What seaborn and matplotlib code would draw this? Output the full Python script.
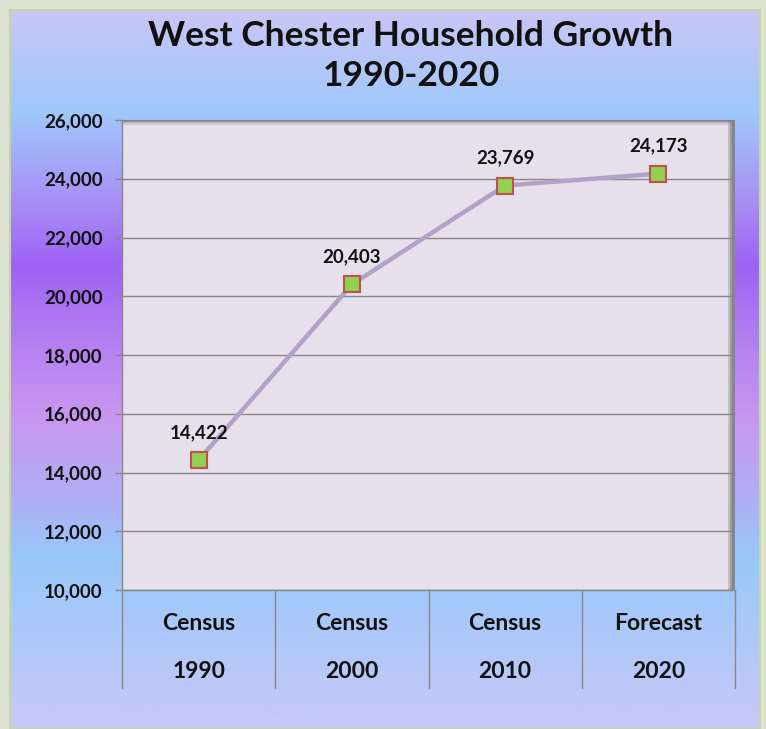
import numpy as np
import pandas as pd
import matplotlib
matplotlib.use("Agg")
import matplotlib.pyplot as plt
import matplotlib.transforms as mtransforms
from matplotlib.colors import LinearSegmentedColormap
from matplotlib.patches import Rectangle
import seaborn as sns

# chart data
periods = ["Census", "Census", "Census", "Forecast"]
years = ["1990", "2000", "2010", "2020"]
households = [14422, 20403, 23769, 24173]
y_ticks = [10000, 12000, 14000, 16000, 18000, 20000, 22000, 24000, 26000]

sns.set_theme(style="white")
plt.rcParams['font.family'] = ['Lato', 'DejaVu Sans']

W, H = 766, 729
fig = plt.figure(figsize=(W / 100, H / 100), dpi=100)
fig.patch.set_facecolor("#dde3d3")

# gradient panel behind everything
bg = fig.add_axes([10 / W, 0, 750 / W, 719 / H])
stops = [(0.0, "#c8c6f6"), (0.139, "#a0c8fb"), (0.264, "#a88ff5"),
         (0.355, "#9d62f4"), (0.445, "#b07cf2"), (0.57, "#c898f0"),
         (0.68, "#b0aef4"), (0.765, "#98c8fa"), (1.0, "#c8c8f8")]
cmap = LinearSegmentedColormap.from_list("panel", stops)
bg.imshow(np.linspace(0, 1, 400).reshape(-1, 1), cmap=cmap, aspect="auto",
          extent=[0, 1, 0, 1], origin="upper")
bg.set_xticks([])
bg.set_yticks([])
for s in bg.spines.values():
    s.set_color("#c5d6a6")
    s.set_linewidth(1.5)

fig.text(411 / W, 1 - 36 / H, "West Chester Household Growth", ha="center",
         va="center", fontsize=25.5, fontweight="bold", color="#111111")
fig.text(411 / W, 1 - 76 / H, "1990-2020", ha="center", va="center",
         fontsize=25.5, fontweight="bold", color="#111111")

ax = fig.add_axes([122 / W, 1 - 590 / H, 613 / W, 470 / H])
ax.set_facecolor("#e6e0ec")

df = pd.DataFrame({"year": years, "households": households})
sns.lineplot(data=df, x="year", y="households", ax=ax, color="#b3a2c7",
             linewidth=3.2, marker="s", markersize=11.5,
             markerfacecolor="#92d050", markeredgecolor="#c0504d",
             markeredgewidth=1.5, zorder=5)

for i, v in enumerate(households):
    ax.annotate(f"{v:,}", (i, v), xytext=(0, 20), textcoords="offset points",
                ha="center", va="center", fontsize=13.5, fontweight="bold",
                color="#111111", zorder=6)

ax.set_xlim(-0.5, 3.5)
ax.set_ylim(10000, 26000)
ax.set_yticks(y_ticks)
ax.set_yticklabels([f"{t:,}" for t in y_ticks], fontsize=13.5,
                   fontweight="bold", color="#111111")
ax.set_xticks([])
ax.set_xlabel("")
ax.set_ylabel("")
ax.tick_params(axis="y", left=True, length=5, width=1, color="#888888", pad=9)
ax.set_axisbelow(True)
ax.grid(axis="y", color="#878787", linewidth=1)
for side in ["top", "right"]:
    ax.spines[side].set_visible(False)
for side in ["left", "bottom"]:
    ax.spines[side].set_color("#888888")
    ax.spines[side].set_linewidth(1)

# plot-area shadow (right and top)
for k, a in enumerate([0.35, 0.55, 0.75]):
    ax.add_patch(Rectangle((0.9886 + k * 0.0035, 0), 0.0114 - k * 0.0035, 1,
                           transform=ax.transAxes, color="#808080", alpha=a,
                           lw=0, zorder=1))
    ax.add_patch(Rectangle((0, 1 - 0.01 + k * 0.003), 1, 0.01 - k * 0.003,
                           transform=ax.transAxes, color="#808080", alpha=a * 0.6,
                           lw=0, zorder=1))

# two-row category axis
trans = mtransforms.blended_transform_factory(ax.transData, ax.transAxes)
for i, (p, y) in enumerate(zip(periods, years)):
    ax.text(i, -33 / 470, p, transform=trans, ha="center", va="center",
            fontsize=16.5, fontweight="bold", color="#111111", clip_on=False)
    ax.text(i, -81 / 470, y, transform=trans, ha="center", va="center",
            fontsize=16.5, fontweight="bold", color="#111111", clip_on=False)
for xb in np.arange(-0.5, 4, 1.0):
    ax.plot([xb, xb], [0, -98 / 470], transform=trans, color="#888888",
            linewidth=1, clip_on=False)

fig.savefig("out.png", dpi=100, facecolor=fig.get_facecolor())
